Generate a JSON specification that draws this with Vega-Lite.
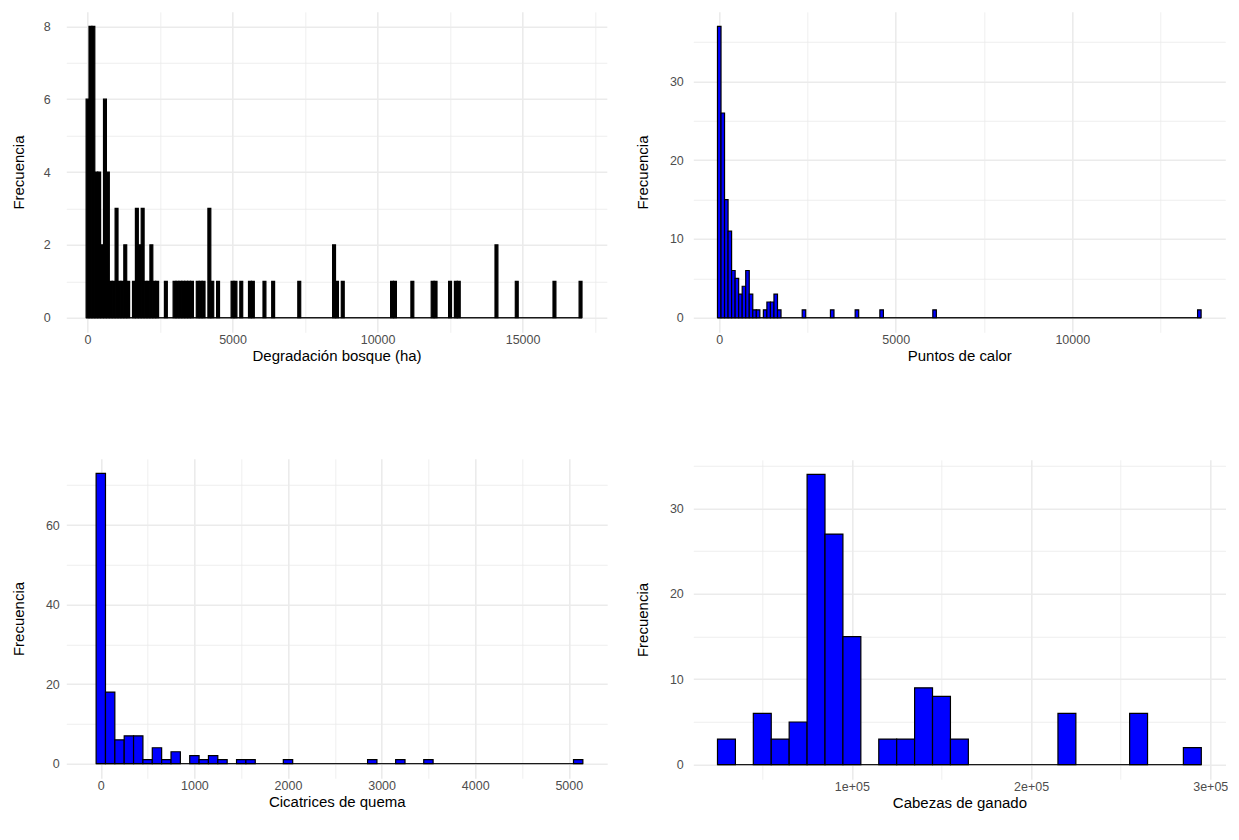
{
  "$schema": "https://vega.github.io/schema/vega-lite/v6.json",
  "background": "#FFFFFF",
  "padding": {"left": 11.3, "top": 11.8, "right": 0, "bottom": 0},
  "config": {
    "view": {"stroke": null},
    "font": "Liberation Sans",
    "axis": {
      "labelFont": "Liberation Sans", "labelFontSize": 12.5, "labelColor": "#4D4D4D",
      "titleFont": "Liberation Sans", "titleFontSize": 15, "titleColor": "#000000", "titleFontWeight": "normal",
      "domain": false, "ticks": false, "tickSize": 0, "grid": true, "gridColor": "#EBEBEB",
      "labelOverlap": false, "labelFlush": false, "labelBound": false
    },
    "axisX": {"labelPadding": 1, "titlePadding": 2.5},
    "axisY": {"labelPadding": 10, "titlePadding": 18.5}
  },
  "columns": 2,
  "align": "none",
  "spacing": {"row": 95, "column": 28},
  "concat": [
    {
      "width": 540.5, "height": 320.5,
      "encoding": {
        "x": {"field": "desde", "type": "quantitative", "scale": {"domain": [-733, 17905], "nice": false, "zero": false},
              "axis": {"title": "Degradación bosque (ha)", "grid": true, "values": [0, 2500, 5000, 7500, 10000, 12500, 15000, 17500],
                       "labelExpr": "datum.value % 5000 === 0 ? '' + datum.value : ''",
                       "gridWidth": {"condition": {"test": "datum.value % 5000 !== 0", "value": 0.8}, "value": 1.6}}},
        "x2": {"field": "hasta"}
      },
      "layer": [
        {
          "data": {"values": [{"desde": -50, "hasta": 17050}]},
          "mark": {"type": "rule", "color": "#1A1A1A", "strokeWidth": 1.3},
          "encoding": {
            "y": {"datum": 0, "type": "quantitative", "scale": {"domain": [-0.4, 8.4], "nice": false, "zero": false},
                  "axis": {"title": "Frecuencia", "grid": true, "labelPadding": 16, "titlePadding": 16.95, "values": [0, 1, 2, 3, 4, 5, 6, 7, 8],
                           "labelExpr": "datum.value % 2 === 0 ? '' + datum.value : ''",
                           "gridWidth": {"condition": {"test": "datum.value % 2 !== 0", "value": 0.8}, "value": 1.6}}}
          }
        },
        {
          "data": {"values": [
            {"desde": -50, "hasta": 50, "n": 6}, {"desde": 50, "hasta": 150, "n": 8}, {"desde": 150, "hasta": 250, "n": 8},
            {"desde": 250, "hasta": 350, "n": 4}, {"desde": 350, "hasta": 450, "n": 4}, {"desde": 450, "hasta": 550, "n": 2},
            {"desde": 550, "hasta": 650, "n": 6}, {"desde": 650, "hasta": 750, "n": 4}, {"desde": 750, "hasta": 850, "n": 1},
            {"desde": 850, "hasta": 950, "n": 1}, {"desde": 950, "hasta": 1050, "n": 3}, {"desde": 1050, "hasta": 1150, "n": 1},
            {"desde": 1150, "hasta": 1250, "n": 1}, {"desde": 1250, "hasta": 1350, "n": 2}, {"desde": 1350, "hasta": 1450, "n": 1},
            {"desde": 1550, "hasta": 1650, "n": 1}, {"desde": 1650, "hasta": 1750, "n": 3}, {"desde": 1750, "hasta": 1850, "n": 2},
            {"desde": 1850, "hasta": 1950, "n": 3}, {"desde": 1950, "hasta": 2050, "n": 1}, {"desde": 2050, "hasta": 2150, "n": 1},
            {"desde": 2150, "hasta": 2250, "n": 2}, {"desde": 2250, "hasta": 2350, "n": 1}, {"desde": 2350, "hasta": 2450, "n": 1},
            {"desde": 2650, "hasta": 2750, "n": 1}, {"desde": 2950, "hasta": 3050, "n": 1}, {"desde": 3050, "hasta": 3150, "n": 1},
            {"desde": 3150, "hasta": 3250, "n": 1}, {"desde": 3250, "hasta": 3350, "n": 1}, {"desde": 3350, "hasta": 3450, "n": 1},
            {"desde": 3450, "hasta": 3550, "n": 1}, {"desde": 3550, "hasta": 3650, "n": 1}, {"desde": 3750, "hasta": 3850, "n": 1},
            {"desde": 3850, "hasta": 3950, "n": 1}, {"desde": 3950, "hasta": 4050, "n": 1}, {"desde": 4150, "hasta": 4250, "n": 3},
            {"desde": 4250, "hasta": 4350, "n": 1}, {"desde": 4450, "hasta": 4550, "n": 1}, {"desde": 4950, "hasta": 5050, "n": 1},
            {"desde": 5050, "hasta": 5150, "n": 1}, {"desde": 5250, "hasta": 5350, "n": 1}, {"desde": 5550, "hasta": 5650, "n": 1},
            {"desde": 5650, "hasta": 5750, "n": 1}, {"desde": 6050, "hasta": 6150, "n": 1}, {"desde": 6350, "hasta": 6450, "n": 1},
            {"desde": 7250, "hasta": 7350, "n": 1}, {"desde": 8450, "hasta": 8550, "n": 2}, {"desde": 8550, "hasta": 8650, "n": 1},
            {"desde": 8750, "hasta": 8850, "n": 1}, {"desde": 10450, "hasta": 10550, "n": 1}, {"desde": 10550, "hasta": 10650, "n": 1},
            {"desde": 11150, "hasta": 11250, "n": 1}, {"desde": 11850, "hasta": 11950, "n": 1}, {"desde": 11950, "hasta": 12050, "n": 1},
            {"desde": 12450, "hasta": 12550, "n": 1}, {"desde": 12650, "hasta": 12750, "n": 1}, {"desde": 12750, "hasta": 12850, "n": 1},
            {"desde": 14050, "hasta": 14150, "n": 2}, {"desde": 14750, "hasta": 14850, "n": 1}, {"desde": 16050, "hasta": 16150, "n": 1},
            {"desde": 16950, "hasta": 17050, "n": 1}
          ]},
          "mark": {"type": "rect", "fill": "#000000", "stroke": "#000000", "strokeWidth": 1.2},
          "encoding": {
            "y": {"field": "n", "type": "quantitative", "scale": {"domain": [-0.4, 8.4], "nice": false, "zero": false},
                  "axis": {"title": "Frecuencia", "grid": true, "labelPadding": 16, "titlePadding": 16.95, "values": [0, 1, 2, 3, 4, 5, 6, 7, 8],
                           "labelExpr": "datum.value % 2 === 0 ? '' + datum.value : ''",
                           "gridWidth": {"condition": {"test": "datum.value % 2 !== 0", "value": 0.8}, "value": 1.6}}},
            "y2": {"datum": 0}
          }
        }
      ]
    },
    {
      "width": 532, "height": 320.5,
      "encoding": {
        "x": {"field": "desde", "type": "quantitative", "scale": {"domain": [-735, 14335], "nice": false, "zero": false},
              "axis": {"title": "Puntos de calor", "grid": true, "values": [0, 2500, 5000, 7500, 10000, 12500],
                       "labelExpr": "datum.value % 5000 === 0 ? '' + datum.value : ''",
                       "gridWidth": {"condition": {"test": "datum.value % 5000 !== 0", "value": 0.8}, "value": 1.6}}},
        "x2": {"field": "hasta"}
      },
      "layer": [
        {
          "data": {"values": [{"desde": -50, "hasta": 13650}]},
          "mark": {"type": "rule", "color": "#1A1A1A", "strokeWidth": 1.3},
          "encoding": {
            "y": {"datum": 0, "type": "quantitative", "scale": {"domain": [-1.85, 38.85], "nice": false, "zero": false},
                  "axis": {"title": "Frecuencia", "grid": true, "values": [0, 5, 10, 15, 20, 25, 30, 35],
                           "labelExpr": "datum.value % 10 === 0 ? '' + datum.value : ''",
                           "gridWidth": {"condition": {"test": "datum.value % 10 !== 0", "value": 0.8}, "value": 1.6}}}
          }
        },
        {
          "data": {"values": [
            {"desde": -50, "hasta": 50, "n": 37}, {"desde": 50, "hasta": 150, "n": 26}, {"desde": 150, "hasta": 250, "n": 15},
            {"desde": 250, "hasta": 350, "n": 11}, {"desde": 350, "hasta": 450, "n": 6}, {"desde": 450, "hasta": 550, "n": 5},
            {"desde": 550, "hasta": 650, "n": 3}, {"desde": 650, "hasta": 750, "n": 4}, {"desde": 750, "hasta": 850, "n": 6},
            {"desde": 850, "hasta": 950, "n": 3}, {"desde": 950, "hasta": 1050, "n": 1}, {"desde": 1050, "hasta": 1150, "n": 1},
            {"desde": 1250, "hasta": 1350, "n": 1}, {"desde": 1350, "hasta": 1450, "n": 2}, {"desde": 1450, "hasta": 1550, "n": 2},
            {"desde": 1550, "hasta": 1650, "n": 3}, {"desde": 1650, "hasta": 1750, "n": 1}, {"desde": 2350, "hasta": 2450, "n": 1},
            {"desde": 3150, "hasta": 3250, "n": 1}, {"desde": 3850, "hasta": 3950, "n": 1}, {"desde": 4550, "hasta": 4650, "n": 1},
            {"desde": 6050, "hasta": 6150, "n": 1}, {"desde": 13550, "hasta": 13650, "n": 1}
          ]},
          "mark": {"type": "rect", "fill": "#0000FF", "stroke": "#000000", "strokeWidth": 1.2},
          "encoding": {
            "y": {"field": "n", "type": "quantitative", "scale": {"domain": [-1.85, 38.85], "nice": false, "zero": false},
                  "axis": {"title": "Frecuencia", "grid": true, "values": [0, 5, 10, 15, 20, 25, 30, 35],
                           "labelExpr": "datum.value % 10 === 0 ? '' + datum.value : ''",
                           "gridWidth": {"condition": {"test": "datum.value % 10 !== 0", "value": 0.8}, "value": 1.6}}},
            "y2": {"datum": 0}
          }
        }
      ]
    },
    {
      "width": 540.9, "height": 319.4,
      "encoding": {
        "x": {"field": "desde", "type": "quantitative", "scale": {"domain": [-368.6, 5410], "nice": false, "zero": false},
              "axis": {"title": "Cicatrices de quema", "grid": true, "values": [0, 500, 1000, 1500, 2000, 2500, 3000, 3500, 4000, 4500, 5000],
                       "labelExpr": "datum.value % 1000 === 0 ? '' + datum.value : ''",
                       "gridWidth": {"condition": {"test": "datum.value % 1000 !== 0", "value": 0.8}, "value": 1.6}}},
        "x2": {"field": "hasta"}
      },
      "layer": [
        {
          "data": {"values": [{"desde": -50, "hasta": 5150}]},
          "mark": {"type": "rule", "color": "#1A1A1A", "strokeWidth": 1.3},
          "encoding": {
            "y": {"datum": 0, "type": "quantitative", "scale": {"domain": [-3.65, 76.65], "nice": false, "zero": false},
                  "axis": {"title": "Frecuencia", "grid": true, "labelPadding": 7, "titlePadding": 19, "values": [0, 10, 20, 30, 40, 50, 60, 70],
                           "labelExpr": "datum.value % 20 === 0 ? '' + datum.value : ''",
                           "gridWidth": {"condition": {"test": "datum.value % 20 !== 0", "value": 0.8}, "value": 1.6}}}
          }
        },
        {
          "data": {"values": [
            {"desde": -50, "hasta": 50, "n": 73}, {"desde": 50, "hasta": 150, "n": 18}, {"desde": 150, "hasta": 250, "n": 6},
            {"desde": 250, "hasta": 350, "n": 7}, {"desde": 350, "hasta": 450, "n": 7}, {"desde": 450, "hasta": 550, "n": 1},
            {"desde": 550, "hasta": 650, "n": 4}, {"desde": 650, "hasta": 750, "n": 1}, {"desde": 750, "hasta": 850, "n": 3},
            {"desde": 950, "hasta": 1050, "n": 2}, {"desde": 1050, "hasta": 1150, "n": 1}, {"desde": 1150, "hasta": 1250, "n": 2},
            {"desde": 1250, "hasta": 1350, "n": 1}, {"desde": 1450, "hasta": 1550, "n": 1}, {"desde": 1550, "hasta": 1650, "n": 1},
            {"desde": 1950, "hasta": 2050, "n": 1}, {"desde": 2850, "hasta": 2950, "n": 1}, {"desde": 3150, "hasta": 3250, "n": 1},
            {"desde": 3450, "hasta": 3550, "n": 1}, {"desde": 5050, "hasta": 5150, "n": 1}
          ]},
          "mark": {"type": "rect", "fill": "#0000FF", "stroke": "#000000", "strokeWidth": 1.2},
          "encoding": {
            "y": {"field": "n", "type": "quantitative", "scale": {"domain": [-3.65, 76.65], "nice": false, "zero": false},
                  "axis": {"title": "Frecuencia", "grid": true, "labelPadding": 7, "titlePadding": 19, "values": [0, 10, 20, 30, 40, 50, 60, 70],
                           "labelExpr": "datum.value % 20 === 0 ? '' + datum.value : ''",
                           "gridWidth": {"condition": {"test": "datum.value % 20 !== 0", "value": 0.8}, "value": 1.6}}},
            "y2": {"datum": 0}
          }
        }
      ]
    },
    {
      "width": 532.2, "height": 319.4,
      "encoding": {
        "x": {"field": "desde", "type": "quantitative", "scale": {"domain": [11500, 308500], "nice": false, "zero": false},
              "axis": {"title": "Cabezas de ganado", "grid": true, "values": [50000, 100000, 150000, 200000, 250000, 300000],
                       "labelExpr": "datum.value % 100000 === 0 ? (datum.value / 100000) + 'e+05' : ''",
                       "gridWidth": {"condition": {"test": "datum.value % 100000 !== 0", "value": 0.8}, "value": 1.6}}},
        "x2": {"field": "hasta"}
      },
      "layer": [
        {
          "data": {"values": [{"desde": 25000, "hasta": 295000}]},
          "mark": {"type": "rule", "color": "#1A1A1A", "strokeWidth": 1.3},
          "encoding": {
            "y": {"datum": 0, "type": "quantitative", "scale": {"domain": [-1.7, 35.7], "nice": false, "zero": false},
                  "axis": {"title": "Frecuencia", "grid": true, "values": [0, 5, 10, 15, 20, 25, 30, 35],
                           "labelExpr": "datum.value % 10 === 0 ? '' + datum.value : ''",
                           "gridWidth": {"condition": {"test": "datum.value % 10 !== 0", "value": 0.8}, "value": 1.6}}}
          }
        },
        {
          "data": {"values": [
            {"desde": 25000, "hasta": 35000, "n": 3}, {"desde": 45000, "hasta": 55000, "n": 6}, {"desde": 55000, "hasta": 65000, "n": 3},
            {"desde": 65000, "hasta": 75000, "n": 5}, {"desde": 75000, "hasta": 85000, "n": 34}, {"desde": 85000, "hasta": 95000, "n": 27},
            {"desde": 95000, "hasta": 105000, "n": 15}, {"desde": 115000, "hasta": 125000, "n": 3}, {"desde": 125000, "hasta": 135000, "n": 3},
            {"desde": 135000, "hasta": 145000, "n": 9}, {"desde": 145000, "hasta": 155000, "n": 8}, {"desde": 155000, "hasta": 165000, "n": 3},
            {"desde": 215000, "hasta": 225000, "n": 6}, {"desde": 255000, "hasta": 265000, "n": 6}, {"desde": 285000, "hasta": 295000, "n": 2}
          ]},
          "mark": {"type": "rect", "fill": "#0000FF", "stroke": "#000000", "strokeWidth": 1.2},
          "encoding": {
            "y": {"field": "n", "type": "quantitative", "scale": {"domain": [-1.7, 35.7], "nice": false, "zero": false},
                  "axis": {"title": "Frecuencia", "grid": true, "values": [0, 5, 10, 15, 20, 25, 30, 35],
                           "labelExpr": "datum.value % 10 === 0 ? '' + datum.value : ''",
                           "gridWidth": {"condition": {"test": "datum.value % 10 !== 0", "value": 0.8}, "value": 1.6}}},
            "y2": {"datum": 0}
          }
        }
      ]
    }
  ]
}
